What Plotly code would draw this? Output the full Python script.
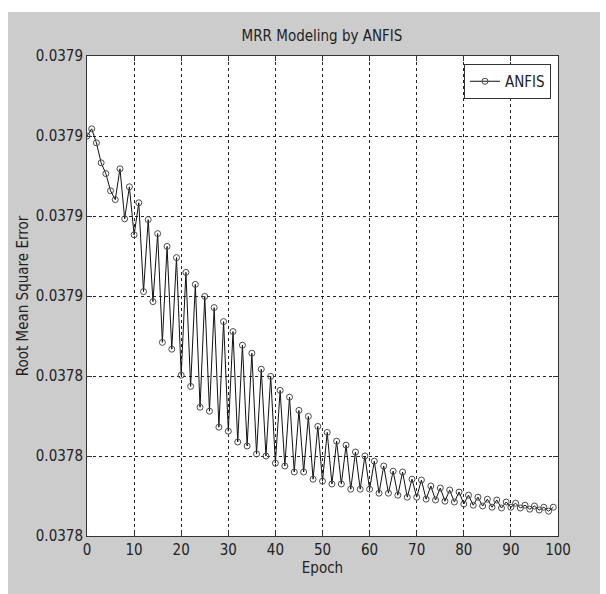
import plotly.graph_objects as go

epochs = list(range(0, 100))
rmse = [
    0.0379000, 0.0379018, 0.0378983, 0.0378933, 0.0378906, 0.0378863, 0.0378841, 0.0378918, 0.0378793, 0.0378873,
    0.0378753, 0.0378833, 0.0378611, 0.0378791, 0.0378586, 0.0378756, 0.0378484, 0.0378724, 0.0378467, 0.0378696,
    0.0378402, 0.0378659, 0.0378374, 0.0378629, 0.0378322, 0.0378599, 0.0378312, 0.0378571, 0.0378272, 0.0378536,
    0.0378262, 0.0378511, 0.0378235, 0.0378477, 0.0378225, 0.0378457, 0.0378205, 0.0378417, 0.0378200, 0.0378399,
    0.0378182, 0.0378364, 0.0378175, 0.0378347, 0.0378160, 0.0378314, 0.0378160, 0.0378299, 0.0378142, 0.0378274,
    0.0378137, 0.0378259, 0.0378130, 0.0378237, 0.0378130, 0.0378227, 0.0378117, 0.0378210, 0.0378117, 0.0378200,
    0.0378117, 0.0378187, 0.0378107, 0.0378175, 0.0378107, 0.0378162, 0.0378102, 0.0378160, 0.0378097, 0.0378142,
    0.0378097, 0.0378140, 0.0378092, 0.0378125, 0.0378090, 0.0378120, 0.0378087, 0.0378115, 0.0378085, 0.0378110,
    0.0378080, 0.0378102, 0.0378077, 0.0378097, 0.0378075, 0.0378092, 0.0378072, 0.0378090, 0.0378070, 0.0378085,
    0.0378072, 0.0378082, 0.0378070, 0.0378077, 0.0378067, 0.0378075, 0.0378065, 0.0378072, 0.0378062, 0.0378072,
]
y_tickvals = [0.03780, 0.03782, 0.03784, 0.03786, 0.03788, 0.03790, 0.03792]
y_ticktext = ["0.0378", "0.0378", "0.0378", "0.0379", "0.0379", "0.0379", "0.0379"]
x_tickvals = [0, 10, 20, 30, 40, 50, 60, 70, 80, 90, 100]

FONT = "Liberation Sans Narrow, DejaVu Sans Condensed, Arial Narrow, Liberation Sans, Arial, sans-serif"
W, H = 606, 594
L, R, T, B = 87, 48, 56, 58
pw, ph = W - L - R, H - T - B

def px2paper_x(px):
    return (px - L) / pw

def px2paper_y(py):
    return (H - B - py) / ph

fig = go.Figure()
fig.add_trace(go.Scatter(
    x=epochs, y=rmse, mode="lines+markers", name="ANFIS",
    line=dict(color="#111111", width=1),
    marker=dict(symbol="circle-open", size=6, color="#4a4a4a", line=dict(width=1)),
))

axis_common = dict(
    showline=True, linecolor="#333333", linewidth=1, mirror="ticks",
    ticks="inside", ticklen=5, tickcolor="#333333",
    showgrid=True, gridcolor="#222222", gridwidth=1, griddash="3px,3px",
    zeroline=False,
    tickfont=dict(family=FONT, size=15, color="#222222"),
)

fig.update_layout(
    width=W, height=H,
    margin=dict(l=L, r=R, t=T, b=B, pad=0),
    paper_bgcolor="white", plot_bgcolor="white",
    title=dict(text="MRR Modeling by ANFIS", x=px2paper_x(322), xref="paper", xanchor="center",
               y=1 - 36 / H, yanchor="middle",
               font=dict(family=FONT, size=15, color="#222222")),
    xaxis=dict(range=[0, 100], tickvals=x_tickvals,
               title=dict(text="Epoch", font=dict(family=FONT, size=15, color="#222222"), standoff=4),
               **axis_common),
    yaxis=dict(range=[0.03780, 0.03792], tickvals=y_tickvals, ticktext=y_ticktext,
               title=dict(text="Root Mean Square Error", font=dict(family=FONT, size=15, color="#222222"), standoff=3),
               **axis_common),
    showlegend=True,
    legend=dict(x=px2paper_x(551), y=px2paper_y(64), xanchor="right", yanchor="top",
                bgcolor="white", bordercolor="#333333", borderwidth=1,
                font=dict(family=FONT, size=15, color="#222222"),
                itemwidth=30, tracegroupgap=0),
    shapes=[
        dict(type="rect", xref="paper", yref="paper", layer="below",
             x0=px2paper_x(8), x1=px2paper_x(600), y0=px2paper_y(594), y1=px2paper_y(12),
             fillcolor="#cccccc", line=dict(width=0)),
        dict(type="rect", xref="paper", yref="paper", layer="below",
             x0=0, x1=1, y0=0, y1=1, fillcolor="white", line=dict(width=0)),
    ],
)

fig.write_html("out.html")
